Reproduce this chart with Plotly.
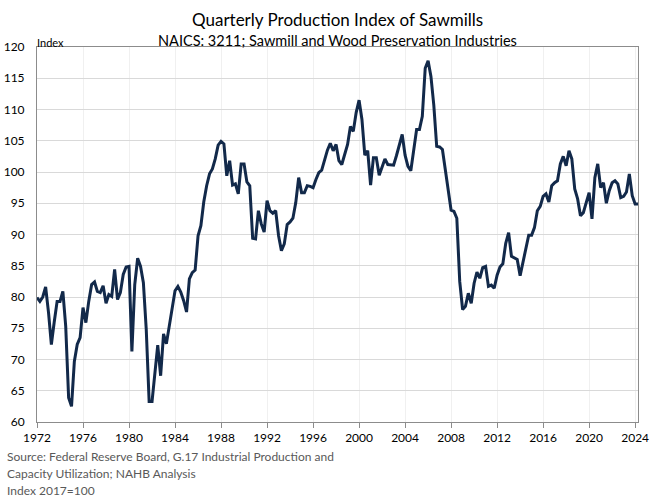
import pandas as pd
import plotly.graph_objects as go

# Quarterly index values, 1972Q1 .. 2024Q2 (Index 2017=100)
start_quarter = "1972-01-01"
index_values = [
    79.9, 79.3, 80.0, 81.6,   # 1972
    77.5, 72.4, 76.0, 79.3,   # 1973
    79.3, 80.9, 75.3, 63.9,   # 1974
    62.5, 69.7, 72.4, 73.5,   # 1975
    78.3, 75.9, 79.3, 82.0,   # 1976
    82.4, 80.9, 80.7, 81.8,   # 1977
    79.0, 80.4, 80.1, 84.4,   # 1978
    79.6, 80.7, 83.6, 84.8,   # 1979
    84.9, 71.3, 82.0, 86.2,   # 1980
    84.9, 82.3, 74.8, 63.3,   # 1981
    63.3, 68.0, 72.3, 67.4,   # 1982
    74.1, 72.5, 75.4, 77.8,   # 1983
    81.0, 81.7, 80.8, 79.4,   # 1984
    77.6, 82.9, 83.9, 84.3,   # 1985
    89.8, 91.4, 95.2, 97.8,   # 1986
    99.7, 100.5, 102.1, 104.3,  # 1987
    104.9, 104.5, 99.4, 101.8,  # 1988
    97.9, 98.1, 96.5, 101.3,  # 1989
    101.3, 98.4, 97.8, 89.4,  # 1990
    89.3, 93.8, 91.7, 90.4,   # 1991
    95.4, 93.8, 93.4, 93.8,   # 1992
    89.8, 87.4, 88.5, 91.6,   # 1993
    92.0, 92.6, 95.1, 99.1,   # 1994
    96.7, 96.7, 97.8, 97.7,   # 1995
    97.5, 98.8, 99.9, 100.3,  # 1996
    102.0, 103.5, 104.6, 103.4,  # 1997
    104.4, 101.8, 101.2, 102.8,  # 1998
    104.4, 107.3, 106.5, 109.5,  # 1999
    111.5, 108.4, 102.7, 103.4,  # 2000
    97.9, 102.3, 102.3, 99.5,  # 2001
    100.9, 102.1, 101.2, 101.1,  # 2002
    101.1, 102.6, 104.5, 106.0,  # 2003
    102.7, 100.9, 100.2, 103.5,  # 2004
    106.8, 106.8, 108.9, 116.6,  # 2005
    117.8, 115.3, 110.7, 104.1,  # 2006
    104.0, 103.6, 100.3, 97.1,  # 2007
    93.9, 93.7, 92.6, 82.5,   # 2008
    78.0, 78.5, 80.6, 79.0,   # 2009
    82.2, 84.0, 83.0, 84.7,   # 2010
    84.9, 81.7, 81.9, 81.4,   # 2011
    83.5, 84.8, 85.3, 88.6,   # 2012
    90.3, 86.5, 86.3, 86.0,   # 2013
    83.4, 85.5, 87.4, 89.9,   # 2014
    89.9, 91.1, 93.8, 94.5,   # 2015
    96.1, 96.5, 95.2, 97.8,   # 2016
    98.3, 98.6, 101.3, 102.5,  # 2017
    101.0, 103.4, 102.1, 97.3,  # 2018
    95.7, 93.0, 93.5, 95.1,   # 2019
    96.7, 92.5, 99.1, 101.3,  # 2020
    97.5, 98.3, 95.0, 97.0,   # 2021
    98.3, 98.6, 98.1, 95.9,   # 2022
    96.1, 96.8, 99.7, 96.2,   # 2023
    94.9, 94.9,               # 2024
]
quarters = pd.date_range(start=start_quarter, periods=len(index_values), freq="QS")

title_text = "Quarterly Production Index of Sawmills"
subtitle_text = "NAICS: 3211; Sawmill and Wood Preservation Industries"
y_label = "Index"
source_lines = [
    "Source: Federal Reserve Board, G.17 Industrial Production and",
    "Capacity Utilization; NAHB Analysis",
    "Index 2017=100",
]

FONT = "Lato"
LINE_COLOR = "#12294a"

fig = go.Figure()
fig.add_trace(go.Scatter(
    x=quarters, y=index_values, mode="lines",
    line=dict(color=LINE_COLOR, width=3),
    showlegend=False, hoverinfo="x+y",
))

fig.update_layout(
    width=663, height=500,
    paper_bgcolor="white", plot_bgcolor="white",
    margin=dict(l=37, r=25, t=47, b=78, autoexpand=False),
    font=dict(family=FONT, color="#000000", size=12),
    showlegend=False,
)

fig.update_xaxes(
    type="date", automargin=False,
    range=[quarters[0], quarters[-1]],
    tick0="1972-01-01", dtick="M48", tickformat="%Y",
    showgrid=True, gridcolor="#f0f0f0", gridwidth=1,
    showline=True, linecolor="#8c8c8c", linewidth=1, mirror=True,
    ticks="outside", ticklen=5, tickcolor="#8c8c8c",
    tickfont=dict(family=FONT, size=12, color="#000000"),
    zeroline=False,
)
fig.update_yaxes(
    automargin=False,
    range=[60, 120], dtick=5, tick0=60,
    showgrid=True, gridcolor="#d9d9d9", gridwidth=1,
    showline=True, linecolor="#8c8c8c", linewidth=1, mirror=True,
    ticks="", ticklabelstandoff=9,
    tickfont=dict(family=FONT, size=12, color="#000000"),
    zeroline=False,
)

fig.add_annotation(text=title_text, x=0.5, y=1, xref="paper", yref="paper",
                   xanchor="center", yanchor="bottom", yshift=15, showarrow=False,
                   font=dict(family=FONT, size=17, color="#000000"))
fig.add_annotation(text=subtitle_text, x=0.5, y=1, xref="paper", yref="paper",
                   xanchor="center", yanchor="bottom", yshift=-4, showarrow=False,
                   font=dict(family=FONT, size=14.5, color="#000000"))
fig.add_annotation(text=y_label, x=0, y=1, xref="paper", yref="paper",
                   xanchor="left", yanchor="bottom", xshift=-2, yshift=-4,
                   showarrow=False,
                   font=dict(family=FONT, size=11, color="#000000"))

for i, line in enumerate(source_lines):
    fig.add_annotation(
        text=line, x=0, y=0, xref="paper", yref="paper",
        xanchor="left", yanchor="top", showarrow=False,
        xshift=-32, yshift=-25 - 17 * i,
        font=dict(family=FONT, size=12, color="#595959"),
    )

# remove the default 8px page margin so the figure fills the window
fig.write_html("out.html", config={"displayModeBar": False},
               post_script="document.body.style.margin='0px';")
